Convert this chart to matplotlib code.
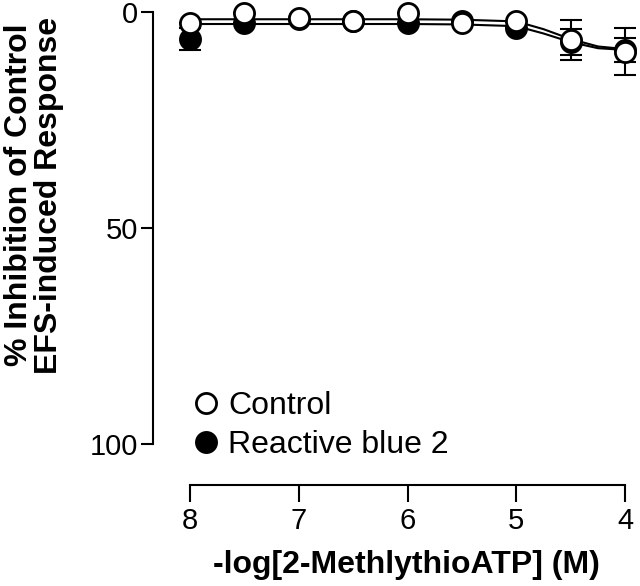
import matplotlib
matplotlib.use('Agg')
from matplotlib import pyplot as plt

plt.rcParams['font.family'] = ['Liberation Sans', 'DejaVu Sans']

# -log concentration
conc = [8, 7.5, 7, 6.5, 6, 5.5, 5, 4.5, 4]

# % inhibition
control = [2.5, 0.3, 1.4, 2.0, 0.3, 2.5, 2.0, 6.5, 9.2]
control_err = [0, 0, 0, 0, 0, 0, 0, 4.6, 5.5]
rb2 = [6.3, 2.5, 1.6, 2.2, 2.5, 2.0, 3.7, 7.0, 8.8]
rb2_err = [2.5, 0, 0, 0, 0, 0, 0, 3.0, 2.8]

# fitted curves as they appear in the picture
fit_x = [8, 7, 6, 5.5, 5, 4.75, 4.5, 4.25, 4]
fit_control = [1.7, 1.7, 1.7, 1.8, 2.2, 4.0, 6.3, 8.0, 8.6]
fit_rb2 = [2.8, 2.8, 2.8, 2.9, 3.3, 5.0, 7.0, 8.4, 8.8]

W, H = 640, 586
fig = plt.figure(figsize=(W / 100, H / 100), dpi=100)
ax = fig.add_axes([153 / W, (H - 485) / H, (635 - 153) / W, (485 - 5) / H])

ax.plot(fit_x, fit_rb2, color='black', lw=1.5, clip_on=False, zorder=2)
ax.plot(fit_x, fit_control, color='black', lw=1.5, clip_on=False, zorder=2)

ax.errorbar(conc, rb2, yerr=rb2_err, fmt='none', ecolor='black', elinewidth=1.5,
            capsize=8, capthick=1.5, clip_on=False, zorder=3)
ax.errorbar(conc, control, yerr=control_err, fmt='none', ecolor='black', elinewidth=1.5,
            capsize=8, capthick=1.5, clip_on=False, zorder=3)

ax.plot(conc, rb2, 'o', ms=14.5, mfc='black', mec='black', mew=2,
        label='Reactive blue 2', clip_on=False, zorder=4)
ax.plot(conc, control, 'o', ms=14.5, mfc='white', mec='black', mew=2,
        label='Control', clip_on=False, zorder=5)

ax.set_xlim(8.34, 3.91)
ax.set_ylim(109.5, -1.6)

ax.spines['top'].set_visible(False)
ax.spines['right'].set_visible(False)
ax.spines['left'].set_bounds(0, 100)
ax.spines['bottom'].set_bounds(8, 4)
ax.spines['left'].set_linewidth(1.5)
ax.spines['bottom'].set_linewidth(1.5)

ax.set_xticks([8, 7, 6, 5, 4])
ax.set_yticks([0, 50, 100])
ax.tick_params(axis='x', length=12, width=1.5, labelsize=21, pad=4)
ax.tick_params(axis='y', length=9, width=1.5, labelsize=21, pad=2)

handles, labels = ax.get_legend_handles_labels()
ax.legend(handles[::-1], labels[::-1], loc='upper left', frameon=False,
          bbox_to_anchor=(177 / W, (H - 378) / H), bbox_transform=fig.transFigure,
          fontsize=23, handletextpad=0.2, labelspacing=0.3, markerscale=1.0,
          handlelength=1.0, borderaxespad=0)

fig.text(406 / W, (H - 565) / H, '-log[2-MethlythioATP] (M)', fontsize=23,
         fontweight='bold', ha='center', va='center')
fig.text(34 / W, (H - 195) / H, '% Inhibition of Control\nEFS-induced Response',
         fontsize=23, fontweight='bold', rotation=90, ha='center', va='center',
         multialignment='center', linespacing=1.0)

fig.savefig('out.png', dpi=100)
